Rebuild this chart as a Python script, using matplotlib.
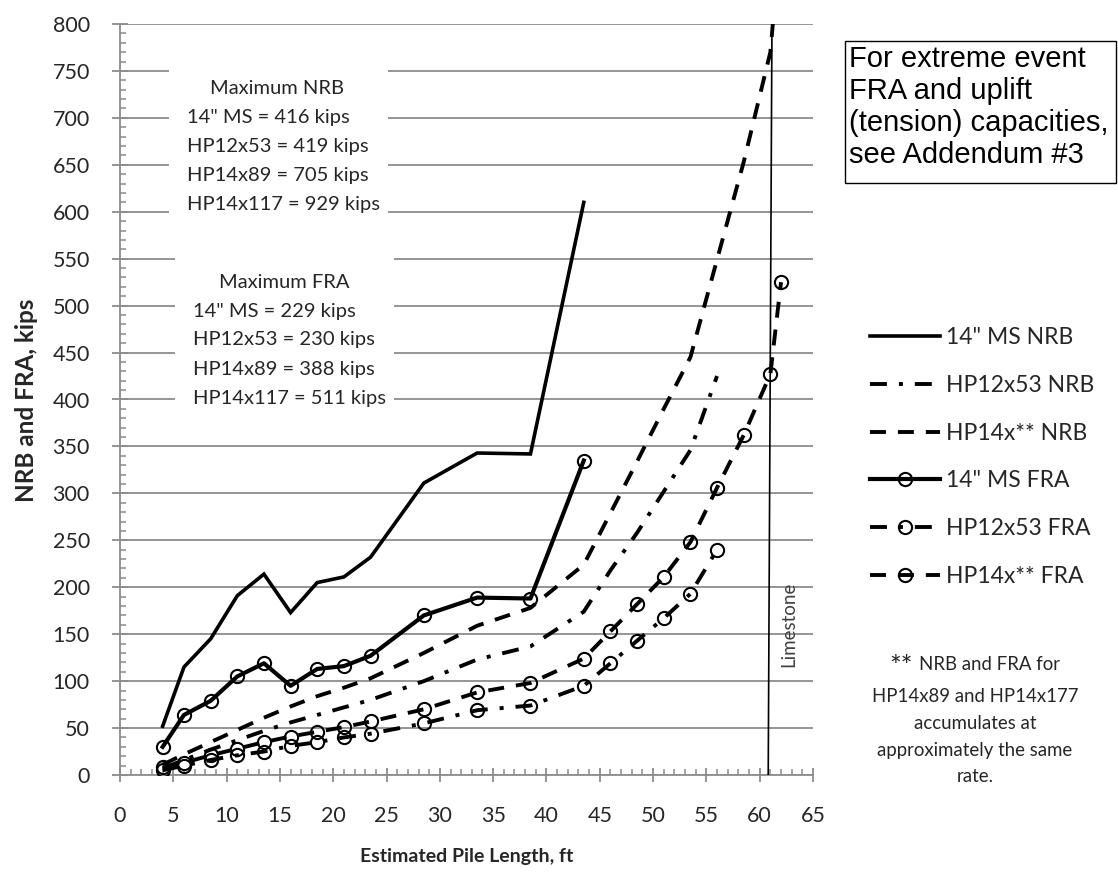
import matplotlib
matplotlib.use("Agg")
import matplotlib.pyplot as plt
from matplotlib.patches import Rectangle
from matplotlib.ticker import MultipleLocator

W, H, DPI = 1118, 880, 100

# ---- data -------------------------------------------------------------
len_ms = [4, 6, 8.5, 11, 13.5, 16, 18.5, 21, 23.5, 28.5, 33.5, 38.5, 43.5]
ms_nrb = [52, 115, 145, 191, 214, 173, 205, 211, 232, 311, 343, 342, 610]
ms_fra = [30, 64, 79, 105, 119, 95, 113, 116, 127, 170, 189, 188, 335]

len_hp12 = [4, 6, 8.5, 11, 13.5, 16, 18.5, 21, 23.5, 28.5, 33.5, 38.5,
            43.5, 46, 48.5, 51, 53.5, 56]
hp12_nrb = [7, 16, 27, 37, 47, 56, 64, 72, 80, 100, 123, 137,
            174, 218, 258, 302, 346, 425]
hp12_fra = [5, 10, 16, 21, 25, 31, 35, 40, 44, 55, 69, 74,
            95, 119, 143, 167, 193, 240]

len_hp14 = [4, 6, 8.5, 11, 13.5, 16, 18.5, 21, 23.5, 28.5, 33.5, 38.5,
            43.5, 46, 48.5, 51, 53.5, 56, 58.5, 61, 62]
hp14_nrb = [11, 22, 35, 48, 61, 73, 84, 93, 103, 130, 159, 178,
            224, 279, 334, 390, 445, 549, 653, 770, 900]
hp14_fra = [8, 13, 21, 28, 35, 41, 46, 51, 57, 70, 88, 98,
            124, 153, 182, 211, 248, 306, 362, 427, 525]

limestone_x = [60.8, 61.15]
limestone_y = [0, 800]

series_labels = ['14" MS NRB', 'HP12x53 NRB', 'HP14x** NRB',
                 '14" MS FRA', 'HP12x53 FRA', 'HP14x** FRA']

nrb_max_lines = ['14" MS = 416 kips', 'HP12x53 = 419 kips',
                 'HP14x89 = 705 kips', 'HP14x117 = 929 kips']
fra_max_lines = ['14" MS = 229 kips', 'HP12x53 = 230 kips',
                 'HP14x89 = 388 kips', 'HP14x117 = 511 kips']

# ---- style ------------------------------------------------------------
plt.rcParams['font.family'] = ['Lato', 'DejaVu Sans']
plt.rcParams['lines.scale_dashes'] = False

GRID = '#8c8c8c'
TXT = '#262626'

DASH = (0, (11.5, 8.6))
DASHDOT = (0, (12.2, 8.6, 2.9, 8.6))
LW = 2.8
MK = dict(marker='o', markersize=9.5, markerfacecolor='none',
          markeredgecolor='black', markeredgewidth=1.5)


def fx(x):
    return x / W


def fy(y):
    return 1 - y / H


fig = plt.figure(figsize=(W / DPI, H / DPI), dpi=DPI)
ax = fig.add_axes([fx(120), fy(775), fx(813) - fx(120), fy(24) - fy(775)])

ax.set_xlim(0, 65)
ax.set_ylim(0, 800)
ax.xaxis.set_major_locator(MultipleLocator(5))
ax.xaxis.set_minor_locator(MultipleLocator(1))
ax.yaxis.set_major_locator(MultipleLocator(50))
ax.yaxis.set_minor_locator(MultipleLocator(10))

ax.set_axisbelow(True)
ax.grid(axis='y', which='major', color=GRID, lw=1.3)
for s in ('top', 'right'):
    ax.spines[s].set_visible(False)
for s in ('left', 'bottom'):
    ax.spines[s].set_color(GRID)
    ax.spines[s].set_linewidth(1.3)

ax.tick_params(axis='y', which='major', direction='inout', length=11.5,
               width=1.3, color=GRID, pad=16, labelsize=15.5, labelcolor=TXT)
ax.tick_params(axis='x', which='major', direction='inout', length=10,
               width=1.3, color=GRID, pad=17, labelsize=15.5, labelcolor=TXT)
ax.tick_params(which='minor', direction='in', length=4.3, width=1.1,
               color=GRID)

# ---- series -----------------------------------------------------------
ax.plot(len_ms, ms_nrb, color='black', lw=2.6, solid_joinstyle='miter',
        label=series_labels[0], zorder=3)
ax.plot(len_hp12, hp12_nrb, color='black', lw=LW, linestyle=DASHDOT,
        label=series_labels[1], zorder=3)
ax.plot(len_hp14, hp14_nrb, color='black', lw=LW, linestyle=DASH,
        label=series_labels[2], zorder=3)
ax.plot(len_ms, ms_fra, color='black', lw=3.0, label=series_labels[3],
        zorder=3, **MK)
ax.plot(len_hp12, hp12_fra, color='black', lw=LW, linestyle=DASHDOT,
        label=series_labels[4], zorder=3, **MK)
ax.plot(len_hp14, hp14_fra, color='black', lw=LW, linestyle=DASH,
        label=series_labels[5], zorder=3, **MK)

ax.plot(limestone_x, limestone_y, color='black', lw=1.2, zorder=3)
ax.text(62.75, 160, 'Limestone', rotation=90, ha='center', va='center',
        fontsize=13.5, color='#404040')

# ---- maximum capacity notes --------------------------------------------
for (x0, y0, w, h) in [(169, 58, 219, 168), (175, 250, 219, 160)]:
    fig.patches.append(Rectangle((fx(x0), fy(y0 + h)), w / W, h / H,
                                 transform=fig.transFigure, fc='white',
                                 ec='none', zorder=1))

fig.text(fx(277), fy(89), 'Maximum NRB', ha='center', va='center',
         fontsize=14.5, color=TXT)
for i, s in enumerate(nrb_max_lines):
    fig.text(fx(187), fy(117 + 29.3 * i), s, ha='left', va='center',
             fontsize=14.5, color=TXT)

fig.text(fx(284), fy(282), 'Maximum FRA', ha='center', va='center',
         fontsize=14.5, color=TXT)
for i, s in enumerate(fra_max_lines):
    fig.text(fx(193), fy(311 + 29 * i), s, ha='left', va='center',
             fontsize=14.5, color=TXT)

# ---- addendum box -------------------------------------------------------
fig.patches.append(Rectangle((fx(845), fy(183)), (1116 - 845) / W,
                             (183 - 41) / H, transform=fig.transFigure,
                             fc='white', ec='black', lw=1.0))
fig.text(fx(849), fy(107), 'For extreme event\nFRA and uplift\n'
         '(tension) capacities,\nsee Addendum #3', ha='left', va='center',
         fontsize=21, family='Liberation Sans', linespacing=1.17,
         color='black')

# ---- legend -------------------------------------------------------------
leg = ax.legend(loc='center left', bbox_to_anchor=(fx(870), fy(457)),
                bbox_transform=fig.transFigure, frameon=False,
                fontsize=16.5, handlelength=3.06, handletextpad=0.26,
                labelspacing=1.17, borderpad=0, borderaxespad=0,
                numpoints=1)
for t in leg.get_texts():
    t.set_color(TXT)

# ---- footnote -----------------------------------------------------------
fig.text(fx(913), fy(668), '**', ha='right', va='center', fontsize=20,
         color=TXT)
fig.text(fx(919), fy(664), 'NRB and FRA for', ha='left', va='center',
         fontsize=13.4, color=TXT)
for i, s in enumerate(['HP14x89 and HP14x177', 'accumulates at',
                       'approximately the same', 'rate.']):
    fig.text(fx(975), fy(697 + 26.5 * i), s, ha='center', va='center',
             fontsize=13.4, color=TXT)

# ---- axis titles --------------------------------------------------------
fig.text(fx(27), fy(400), 'NRB and FRA, kips', rotation=90, ha='center',
         va='center', fontsize=17.5, fontweight='bold', color=TXT)
fig.text(fx(467), fy(856), 'Estimated Pile Length, ft', ha='center',
         va='center', fontsize=14, fontweight='bold', color=TXT)

fig.savefig('out.png', dpi=DPI)
